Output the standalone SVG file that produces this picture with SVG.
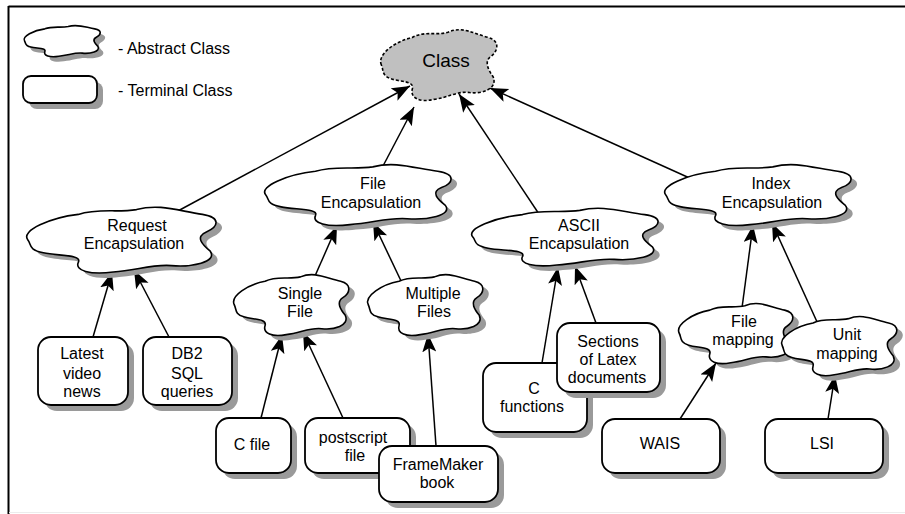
<svg xmlns="http://www.w3.org/2000/svg" xmlns:xlink="http://www.w3.org/1999/xlink" width="905" height="514" viewBox="0 0 905 514">
<style>
  .t { font-family: "Liberation Sans", Arial, sans-serif; font-size: 16px; fill: #000; text-anchor: middle; }
  .tl { font-family: "Liberation Sans", Arial, sans-serif; font-size: 16px; fill: #000; }
  .cl { fill: #fff; stroke: #000; stroke-width: 1.6; }
  .abs { fill: #c0c0c0; stroke: #000; stroke-width: 1.6; stroke-dasharray: 3 2; }
  .sh { fill: #9a9a9a; stroke: none; }
  .box { fill: #fff; stroke: #000; stroke-width: 1.8; }
  .edge { stroke: #000; stroke-width: 1.5; fill: none; marker-end: url(#ah); }
</style>
<defs>
  <path id="cloud" vector-effect="non-scaling-stroke" d="M2,50 C-2,38 14,22 28,18 C38,10 48,16 58,12 C70,4 80,14 92,18 C102,22 100,34 94,40 C88,46 92,56 96,64 C100,78 86,84 76,82 C66,80 58,88 46,90 C34,94 26,88 28,78 C30,68 18,70 10,66 C2,62 4,56 2,50 Z"/>
  <marker id="ah" markerUnits="userSpaceOnUse" markerWidth="20" markerHeight="16" refX="18" refY="7" orient="auto">
    <path d="M0,0 L18,7 L0,14 L4,7 Z" fill="#000"/>
  </marker>
</defs>
<rect x="0" y="0" width="905" height="514" fill="#fff"/>
<line x1="8.5" y1="6.5" x2="905" y2="6.5" stroke="#000" stroke-width="2"/>
<line x1="8.5" y1="6" x2="8.5" y2="514" stroke="#000" stroke-width="2"/>
<line x1="9" y1="512.5" x2="905" y2="512.5" stroke="#ececec" stroke-width="1"/>

<g id="legend">
  <use xlink:href="#cloud" class="sh" transform="translate(28,27) scale(0.78,0.38)"/>
  <use xlink:href="#cloud" class="cl" transform="translate(23,22) scale(0.78,0.38)"/>
  <text class="tl" x="118" y="54">- Abstract Class</text>
  <rect class="sh" x="29" y="82" width="74" height="27" rx="8"/>
  <rect class="box" x="23" y="76" width="74" height="27" rx="8"/>
  <text class="tl" x="118" y="96">- Terminal Class</text>
</g>

<g id="connectors">
  <line class="edge" x1="176" y1="212" x2="410" y2="86"/>
  <line class="edge" x1="383" y1="166" x2="414" y2="107"/>
  <line class="edge" x1="539" y1="214" x2="459" y2="94"/>
  <line class="edge" x1="694" y1="180" x2="490" y2="88"/>
  <line class="edge" x1="93" y1="337" x2="112" y2="272"/>
  <line class="edge" x1="169" y1="337" x2="134" y2="270"/>
  <line class="edge" x1="315" y1="276" x2="337" y2="226"/>
  <line class="edge" x1="402" y1="283" x2="373" y2="222"/>
  <line class="edge" x1="261" y1="418" x2="282" y2="335"/>
  <line class="edge" x1="343" y1="418" x2="303" y2="332"/>
  <line class="edge" x1="436" y1="446" x2="428" y2="334"/>
  <line class="edge" x1="542" y1="363" x2="558" y2="267"/>
  <line class="edge" x1="596" y1="323" x2="575" y2="266"/>
  <line class="edge" x1="742" y1="308" x2="753" y2="225"/>
  <line class="edge" x1="818" y1="324" x2="772" y2="223"/>
  <line class="edge" x1="680" y1="419" x2="716" y2="363"/>
  <line class="edge" x1="828" y1="419" x2="835" y2="375"/>
</g>

<g id="class">
  <use xlink:href="#cloud" class="abs" transform="translate(379,22) scale(1.19,0.86)"/>
  <text class="t" x="446" y="67" style="font-size:19px">Class</text>
</g>

<g id="request">
  <use xlink:href="#cloud" class="sh" transform="translate(30,205) scale(1.94,0.8)"/>
  <use xlink:href="#cloud" class="cl" transform="translate(24,200) scale(1.94,0.8)"/>
  <text class="t" x="137" y="231">Request</text>
  <text class="t" x="134" y="249">Encapsulation</text>
</g>

<g id="fileenc">
  <use xlink:href="#cloud" class="sh" transform="translate(268,163) scale(1.91,0.74)"/>
  <use xlink:href="#cloud" class="cl" transform="translate(262,158) scale(1.91,0.74)"/>
  <text class="t" x="373" y="189">File</text>
  <text class="t" x="371" y="208">Encapsulation</text>
</g>

<g id="asciienc">
  <use xlink:href="#cloud" class="sh" transform="translate(475,207) scale(1.91,0.7)"/>
  <use xlink:href="#cloud" class="cl" transform="translate(469,202) scale(1.91,0.7)"/>
  <text class="t" x="579" y="231">ASCII</text>
  <text class="t" x="579" y="249">Encapsulation</text>
</g>

<g id="indexenc">
  <use xlink:href="#cloud" class="sh" transform="translate(668,163) scale(1.91,0.74)"/>
  <use xlink:href="#cloud" class="cl" transform="translate(662,158) scale(1.91,0.74)"/>
  <text class="t" x="771" y="189">Index</text>
  <text class="t" x="772" y="208">Encapsulation</text>
</g>

<g id="single">
  <use xlink:href="#cloud" class="sh" transform="translate(238,273) scale(1.18,0.74)"/>
  <use xlink:href="#cloud" class="cl" transform="translate(232,268) scale(1.18,0.74)"/>
  <text class="t" x="300" y="299">Single</text>
  <text class="t" x="300" y="317">File</text>
</g>

<g id="multiple">
  <use xlink:href="#cloud" class="sh" transform="translate(372,273) scale(1.18,0.74)"/>
  <use xlink:href="#cloud" class="cl" transform="translate(366,268) scale(1.18,0.74)"/>
  <text class="t" x="433" y="299">Multiple</text>
  <text class="t" x="434" y="317">Files</text>
</g>

<g id="filemapping">
  <use xlink:href="#cloud" class="sh" transform="translate(683,302) scale(1.17,0.73)"/>
  <use xlink:href="#cloud" class="cl" transform="translate(677,297) scale(1.17,0.73)"/>
  <text class="t" x="744" y="327">File</text>
  <text class="t" x="743" y="345">mapping</text>
</g>

<g id="unitmapping">
  <use xlink:href="#cloud" class="sh" transform="translate(786,315) scale(1.18,0.72)"/>
  <use xlink:href="#cloud" class="cl" transform="translate(780,310) scale(1.18,0.72)"/>
  <text class="t" x="847" y="340">Unit</text>
  <text class="t" x="847" y="359">mapping</text>
</g>

<g id="latest">
  <rect class="sh" x="44" y="343" width="90" height="68" rx="13"/>
  <rect class="box" x="38" y="337" width="90" height="68" rx="13"/>
  <text class="t" x="82" y="359">Latest</text>
  <text class="t" x="82" y="379">video</text>
  <text class="t" x="82" y="397">news</text>
</g>

<g id="db2">
  <rect class="sh" x="149" y="343" width="89" height="68" rx="13"/>
  <rect class="box" x="143" y="337" width="89" height="68" rx="13"/>
  <text class="t" x="187" y="359">DB2</text>
  <text class="t" x="187" y="379">SQL</text>
  <text class="t" x="187" y="397">queries</text>
</g>

<g id="cfile">
  <rect class="sh" x="222" y="424" width="75" height="55" rx="13"/>
  <rect class="box" x="216" y="418" width="75" height="55" rx="13"/>
  <text class="t" x="252" y="450">C file</text>
</g>

<g id="postscript">
  <rect class="sh" x="311" y="424" width="105" height="55" rx="13"/>
  <rect class="box" x="305" y="418" width="105" height="55" rx="13"/>
  <text class="t" x="353" y="443">postscript</text>
  <text class="t" x="355" y="461">file</text>
</g>

<g id="framemaker">
  <rect class="sh" x="385" y="452" width="119" height="56" rx="13"/>
  <rect class="box" x="379" y="446" width="119" height="56" rx="13"/>
  <text class="t" x="438" y="470">FrameMaker</text>
  <text class="t" x="437" y="488">book</text>
</g>

<g id="cfunctions">
  <rect class="sh" x="489" y="369" width="104" height="69" rx="13"/>
  <rect class="box" x="483" y="363" width="104" height="69" rx="13"/>
  <text class="t" x="534" y="394">C</text>
  <text class="t" x="532" y="412">functions</text>
</g>

<g id="sections">
  <rect class="sh" x="563" y="329" width="103" height="69" rx="13"/>
  <rect class="box" x="557" y="323" width="103" height="69" rx="13"/>
  <text class="t" x="608" y="347">Sections</text>
  <text class="t" x="608" y="365">of Latex</text>
  <text class="t" x="607" y="383">documents</text>
</g>

<g id="wais">
  <rect class="sh" x="608" y="425" width="118" height="54" rx="13"/>
  <rect class="box" x="602" y="419" width="118" height="54" rx="13"/>
  <text class="t" x="660" y="449">WAIS</text>
</g>

<g id="lsi">
  <rect class="sh" x="771" y="425" width="118" height="54" rx="13"/>
  <rect class="box" x="765" y="419" width="118" height="54" rx="13"/>
  <text class="t" x="822" y="449">LSI</text>
</g>
</svg>
